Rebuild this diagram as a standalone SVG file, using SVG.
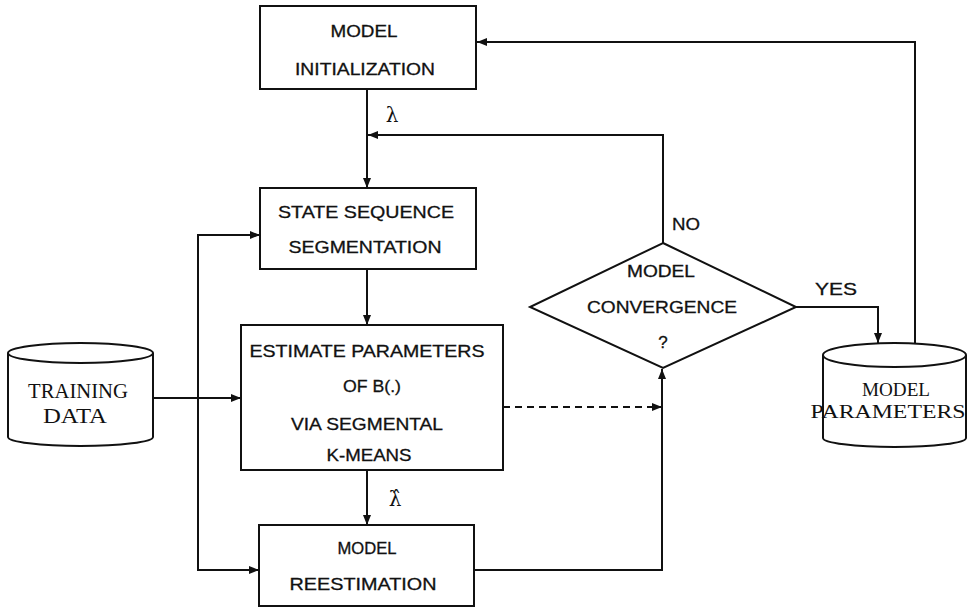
<svg xmlns="http://www.w3.org/2000/svg" width="967" height="608" viewBox="0 0 967 608">
<defs>
<style>
.box{fill:#fff;stroke:#111;stroke-width:2}
.ln{fill:none;stroke:#111;stroke-width:2}
.dash{fill:none;stroke:#111;stroke-width:2;stroke-dasharray:7 5}
.t{font-family:"Liberation Sans",Arial,sans-serif;font-size:17px;fill:#111;stroke:#111;stroke-width:0.3;text-anchor:middle}
.s{font-family:"Liberation Serif","Times New Roman",serif;font-size:21px;fill:#111;text-anchor:middle}
.s2{font-family:"Liberation Serif","Times New Roman",serif;font-size:18px;fill:#111;text-anchor:middle}
.g{font-family:"DejaVu Serif","Liberation Serif",serif;font-size:20px;fill:#111;text-anchor:middle}
</style>
<marker id="ah" viewBox="0 0 10 10" refX="10" refY="5" markerWidth="10" markerHeight="10" markerUnits="userSpaceOnUse" orient="auto">
<path d="M0,1 L10,5 L0,9 Z" fill="#111"/>
</marker>
</defs>
<rect width="967" height="608" fill="#fff"/>

<g id="connectors">
<path class="ln" d="M367,89 V188" marker-end="url(#ah)"/>
<path class="ln" d="M663,243 V135 H368" marker-end="url(#ah)"/>
<path class="ln" d="M915,343 V42 H477" marker-end="url(#ah)"/>
<path class="ln" d="M367,269 V325" marker-end="url(#ah)"/>
<path class="ln" d="M153,398 H241" marker-end="url(#ah)"/>
<path class="ln" d="M198,398 V235 H260" marker-end="url(#ah)"/>
<path class="ln" d="M198,398 V570 H259" marker-end="url(#ah)"/>
<path class="ln" d="M367,470 V525" marker-end="url(#ah)"/>
<path class="dash" d="M503,407 H662" marker-end="url(#ah)"/>
<path class="ln" d="M474,570 H662 V369" marker-end="url(#ah)"/>
<path class="ln" d="M796,307 H878 V343" marker-end="url(#ah)"/>
<text class="g" x="392" y="122">λ</text>
<text class="g" x="395" y="506">λ̂</text>
<text class="t" x="686" y="230" textLength="28" lengthAdjust="spacingAndGlyphs">NO</text>
<text class="t" x="836" y="295" textLength="42" lengthAdjust="spacingAndGlyphs">YES</text>
</g>

<g id="model-initialization">
<rect class="box" x="260" y="6" width="216" height="83"/>
<text class="t" x="364" y="37" textLength="67" lengthAdjust="spacingAndGlyphs">MODEL</text>
<text class="t" x="365" y="75" textLength="140" lengthAdjust="spacingAndGlyphs">INITIALIZATION</text>
</g>

<g id="state-sequence-segmentation">
<rect class="box" x="260" y="188" width="216" height="81"/>
<text class="t" x="366" y="218" textLength="176" lengthAdjust="spacingAndGlyphs">STATE SEQUENCE</text>
<text class="t" x="365" y="253" textLength="153" lengthAdjust="spacingAndGlyphs">SEGMENTATION</text>
</g>

<g id="estimate-parameters">
<rect class="box" x="241" y="325" width="262" height="145"/>
<text class="t" x="367" y="357" textLength="235" lengthAdjust="spacingAndGlyphs">ESTIMATE PARAMETERS</text>
<text class="t" x="372" y="392" textLength="58" lengthAdjust="spacingAndGlyphs">OF B(.)</text>
<text class="t" x="367" y="430" textLength="152" lengthAdjust="spacingAndGlyphs">VIA SEGMENTAL</text>
<text class="t" x="369" y="461" textLength="85" lengthAdjust="spacingAndGlyphs">K-MEANS</text>
</g>

<g id="model-reestimation">
<rect class="box" x="259" y="525" width="215" height="81"/>
<text class="t" x="367" y="554" textLength="59" lengthAdjust="spacingAndGlyphs">MODEL</text>
<text class="t" x="363" y="590" textLength="147" lengthAdjust="spacingAndGlyphs">REESTIMATION</text>
</g>

<g id="model-convergence">
<path class="box" d="M663,243 L796,307 L663,368 L530,307 Z"/>
<text class="t" x="661" y="277" textLength="68" lengthAdjust="spacingAndGlyphs">MODEL</text>
<text class="t" x="662" y="313" textLength="150" lengthAdjust="spacingAndGlyphs">CONVERGENCE</text>
<text class="t" x="663" y="348">?</text>
</g>

<g id="training-data">
<path class="box" d="M8,353 L8,437 A72.5,9 0 0 0 153,437 L153,353"/>
<ellipse class="box" cx="80.5" cy="353" rx="72.5" ry="10"/>
<text class="s" x="78" y="398" textLength="100" lengthAdjust="spacingAndGlyphs">TRAINING</text>
<text class="s" x="75" y="423" textLength="64" lengthAdjust="spacingAndGlyphs">DATA</text>
</g>

<g id="model-parameters">
<path class="box" d="M823,355 L823,438 A71.5,9 0 0 0 966,438 L966,355"/>
<ellipse class="box" cx="894.5" cy="355" rx="71.5" ry="12"/>
<text class="s2" x="896" y="396" textLength="68" lengthAdjust="spacingAndGlyphs">MODEL</text>
<text class="s2" x="888" y="418" textLength="155" lengthAdjust="spacingAndGlyphs">PARAMETERS</text>
</g>
</svg>
